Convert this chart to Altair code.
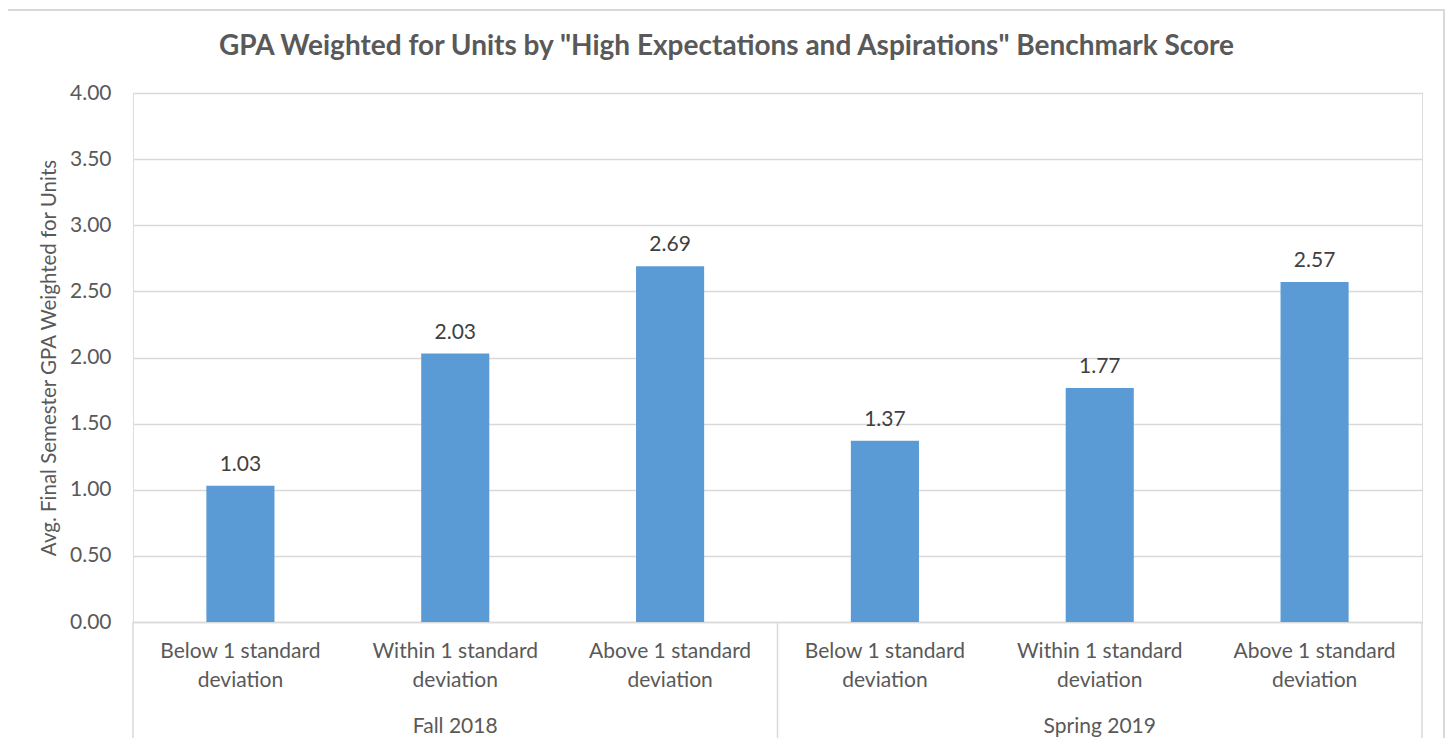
import altair as alt
import pandas as pd

# ---- data ----
groups = ["Fall 2018", "Fall 2018", "Fall 2018", "Spring 2019", "Spring 2019", "Spring 2019"]
subcats = [
    "Below 1 standard|deviation",
    "Within 1 standard|deviation",
    "Above 1 standard|deviation",
    "Below 1 standard|deviation",
    "Within 1 standard|deviation",
    "Above 1 standard|deviation",
]
values = [1.03, 2.03, 2.69, 1.37, 1.77, 2.57]

group_names = ["Fall 2018", "Spring 2019"]
group_centers = [1.5, 4.5]      # in category-index units
group_bounds = [0, 3, 6]        # category-index boundaries
y_ticks = [0, 0.5, 1.0, 1.5, 2.0, 2.5, 3.0, 3.5, 4.0]

TITLE = 'GPA Weighted for Units by "High Expectations and Aspirations" Benchmark Score'
Y_TITLE = "Avg. Final Semester GPA Weighted for Units"

FONT = "Lato"
TXT = "#595959"
GRID = "#D9D9D9"
BAR = "#5B9BD5"

W, H = 1289, 529

df = pd.DataFrame({
    "key": [f"{g}::{s}" for g, s in zip(groups, subcats)],
    "group": groups,
    "sub": subcats,
    "value": values,
})
gdf = pd.DataFrame({"group": group_names, "pos": group_centers})
bdf = pd.DataFrame({"pos": group_bounds})
tdf = pd.DataFrame({"t": [TITLE]})
one = pd.DataFrame({"a": [0]})

xband = alt.X(
    "key:N",
    sort=None,
    scale=alt.Scale(paddingInner=0.683, paddingOuter=0.3415),
    axis=alt.Axis(
        title=None,
        labelExpr="split(split(datum.label, '::')[1], '|')",
        labelAngle=0,
        labelFont=FONT,
        labelFontSize=21,
        labelColor=TXT,
        labelLineHeight=29,
        labelPadding=18,
        labelBaseline="top",
        ticks=False,
        domain=True,
        domainColor=GRID,
        domainWidth=1.5,
        grid=False,
    ),
)
yq = alt.Y(
    "value:Q",
    scale=alt.Scale(domain=[0, 4], nice=False),
    axis=alt.Axis(
        title=Y_TITLE,
        values=y_ticks,
        format=".2f",
        labelFont=FONT,
        labelFontSize=21,
        labelColor=TXT,
        labelPadding=22,
        ticks=False,
        domain=False,
        grid=True,
        gridColor=GRID,
        gridWidth=1.5,
        titleFont=FONT,
        titleFontSize=20.5,
        titleFontWeight="normal",
        titleColor=TXT,
        titlePadding=10,
    ),
)

frame = alt.Chart(one).mark_rect(fill=None, stroke=GRID, strokeWidth=2).encode(
    x=alt.value(-126), x2=alt.value(1311), y=alt.value(-83), y2=alt.value(H + 200)
)

title = alt.Chart(tdf).mark_text(
    font=FONT, fontSize=28, fontWeight="bold", color=TXT, baseline="middle", align="center"
).encode(x=alt.value(W / 2 - 51), y=alt.value(-46), text="t:N")

bars = alt.Chart(df).mark_bar(color=BAR).encode(x=xband, y=yq)

labels = alt.Chart(df).mark_text(
    font=FONT, fontSize=21, color="#404040", baseline="alphabetic", dy=-15
).encode(x=alt.X("key:N", sort=None), y="value:Q", text=alt.Text("value:Q", format=".2f"))

seps = alt.Chart(bdf).mark_rule(color=GRID, strokeWidth=1.5).encode(
    x=alt.X("pos:Q", scale=alt.Scale(domain=[0, 6], nice=False, zero=False), axis=None),
    y=alt.value(H),
    y2=alt.value(H + 200),
)
gtext = alt.Chart(gdf).mark_text(
    font=FONT, fontSize=21, color=TXT, baseline="middle"
).encode(
    x=alt.X("pos:Q", scale=alt.Scale(domain=[0, 6], nice=False, zero=False), axis=None),
    y=alt.value(H + 105),
    text="group:N",
)

band_layer = alt.layer(bars, labels)
quant_layer = alt.layer(seps, gtext)

chart = (
    alt.layer(frame, title, band_layer, quant_layer)
    .resolve_scale(x="independent")
    .properties(
        width=W,
        height=H,
        autosize=alt.AutoSizeParams(type="none"),
        padding={"left": 125, "top": 85, "right": 23, "bottom": 116},
    )
    .configure_view(stroke=None)
    .configure(background="white")
)

chart.save("out.html", embed_options={"renderer": "svg", "actions": False})
